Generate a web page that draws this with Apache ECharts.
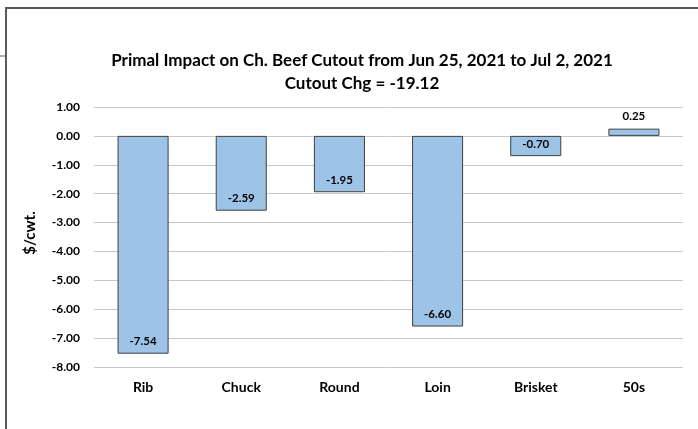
<!DOCTYPE html>
<html lang="en">
<head>
    <meta charset="UTF-8">
    <title>Primal Impact</title>
    <script src="https://cdn.jsdelivr.net/npm/echarts@6/dist/echarts.min.js"></script>
    <style>
        html, body { margin: 0; padding: 0; background: #fff; }
        #chart { width: 698px; height: 429px; }
    </style>
</head>
<body>
<div id="chart"></div>
<script>
    var categories = ['Rib', 'Chuck', 'Round', 'Loin', 'Brisket', '50s'];
    var values = [-7.54, -2.59, -1.95, -6.60, -0.70, 0.25];
    var titleLines = ['Primal Impact on Ch. Beef Cutout from Jun 25, 2021 to Jul 2, 2021', 'Cutout Chg = -19.12'];

    var font = 'Lato, "Open Sans", sans-serif';

    var barData = values.map(function (v) {
        return {
            value: v,
            label: { position: v < 0 ? 'insideBottom' : 'top', distance: 6 }
        };
    });

    var mychart = echarts.init(document.getElementById('chart'));
    var option = {
        animation: false,
        title: {
            text: titleLines.join('\n'),
            left: 357,
            textAlign: 'center',
            top: 44,
            textStyle: { fontFamily: font, fontSize: 17, fontWeight: 'bold', color: '#000', lineHeight: 23 }
        },
        graphic: [
            { type: 'rect', shape: { x: 6, y: 8, width: 760, height: 500 }, style: { fill: null, stroke: '#5a5a5a', lineWidth: 2 } },
            { type: 'line', shape: { x1: 0, y1: 56, x2: 5, y2: 56 }, style: { stroke: '#5a5a5a', lineWidth: 1 } }
        ],
        grid: { left: 94, right: 15, top: 107, bottom: 62 },
        xAxis: {
            type: 'category',
            data: categories,
            position: 'bottom',
            axisLine: { show: false },
            axisTick: { show: false },
            axisLabel: { fontFamily: font, fontSize: 14, fontWeight: 'bold', color: '#000', margin: 13 }
        },
        yAxis: {
            type: 'value',
            min: -8,
            max: 1,
            interval: 1,
            name: '$/cwt.',
            nameLocation: 'middle',
            nameGap: 56,
            nameTextStyle: { fontFamily: font, fontSize: 15, fontWeight: 'bold', color: '#000', padding: [0, 0, 0, 8] },
            axisLine: { show: false },
            axisTick: { show: false },
            splitLine: { lineStyle: { color: '#c8c8c8', width: 1 } },
            axisLabel: {
                fontFamily: font, fontSize: 12, fontWeight: 'bold', color: '#000', margin: 14,
                formatter: function (v) { return v.toFixed(2); }
            }
        },
        series: [{
            type: 'bar',
            data: barData,
            barWidth: '52%',
            itemStyle: { color: '#9dc3e6', borderColor: '#404040', borderWidth: 1 },
            label: {
                show: true,
                fontFamily: font, fontSize: 11.5, fontWeight: 'bold', color: '#000',
                formatter: function (p) { return p.value.toFixed(2); }
            }
        }]
    };
    mychart.setOption(option);
</script>
</body>
</html>
